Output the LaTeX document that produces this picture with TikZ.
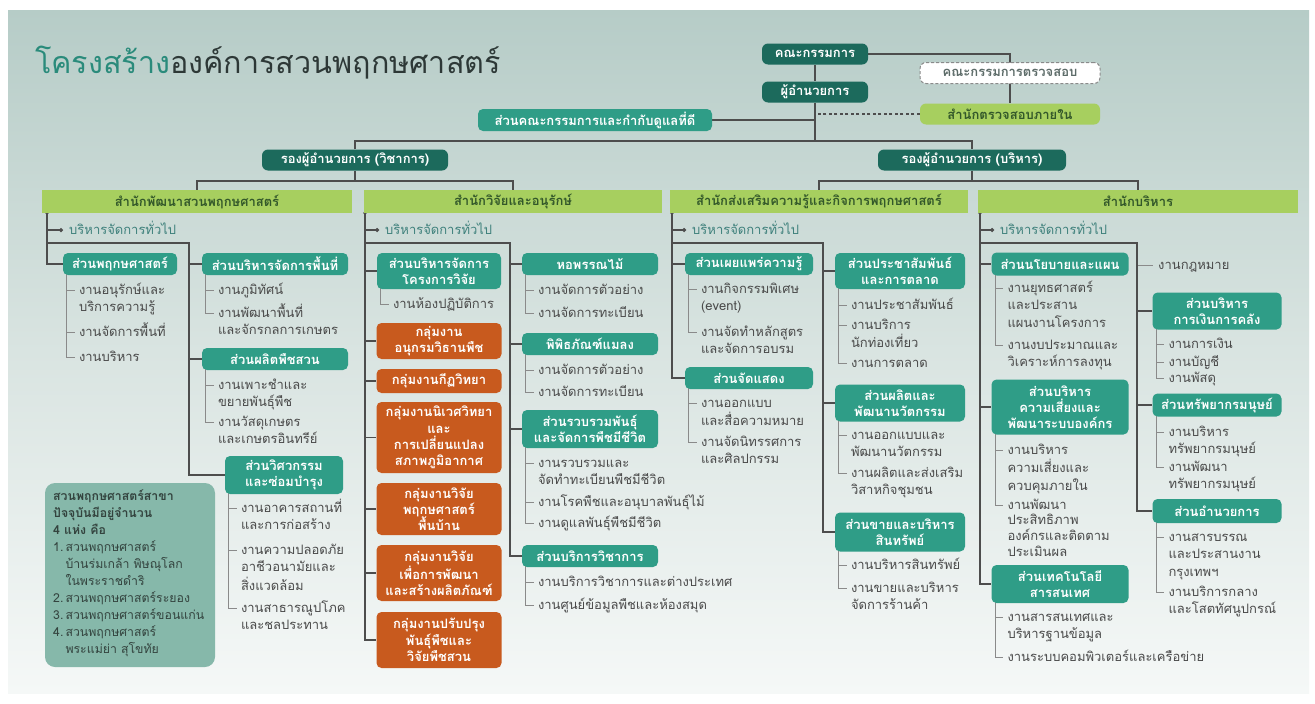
\documentclass[tikz,border=0pt]{standalone}
\usepackage{fontspec}
\setmainfont{Loma}[Script=Thai]
\usetikzlibrary{calc,arrows.meta}
\pgfdeclarelayer{back}\pgfdeclarelayer{bg}
\pgfsetlayers{back,bg,main}
\definecolor{bgtop}{HTML}{B6CCC7}
\definecolor{bgmid}{HTML}{D9E4E1}
\definecolor{bgbot}{HTML}{F5F8F7}
\definecolor{dkteal}{HTML}{1C6A5C}
\definecolor{secteal}{HTML}{2F9D87}
\definecolor{lgreen}{HTML}{A7CF5F}
\definecolor{hdrtext}{HTML}{33582A}
\definecolor{orng}{HTML}{C85A1E}
\definecolor{itemgray}{HTML}{4A4A4A}
\definecolor{gentext}{HTML}{3F817C}
\definecolor{infofill}{HTML}{86B8AA}
\definecolor{infotext}{HTML}{33433E}
\definecolor{linec}{HTML}{4D4D4D}
\definecolor{tickc}{HTML}{8A8A8A}
\definecolor{titleteal}{HTML}{2A8B7B}
\definecolor{titledark}{HTML}{2D3836}
\definecolor{dashtext}{HTML}{5C6B68}
\newcommand\tl[1]{\begin{tabular}[t]{@{}l@{}}#1\end{tabular}}
\newcommand\boxfont{\bfseries\fontsize{13}{16.3}\selectfont}
\newcommand\itmfont{\fontsize{13}{17.5}\selectfont}
\newcommand\itm[4]{%
  \node[itm] (#2) at ($(#1.west |- 0,#3)+(16,0)$) {\tl{#4}};
  \begin{pgfonlayer}{bg}\draw[tick] ($(#1.south west)+(4,-2)$) |- ($(#2.base west)+(-4,-4)$);\end{pgfonlayer}}
\newcommand\itmS[4]{%
  \node[itm] (#2) at ($(#1.west |- 0,#3)+(16,0)$) {\renewcommand\arraystretch{0.9}\tl{#4}};
  \begin{pgfonlayer}{bg}\draw[tick] ($(#1.south west)+(4,-2)$) |- ($(#2.base west)+(-4,-4)$);\end{pgfonlayer}}
\begin{document}
\begin{tikzpicture}[x=1pt,y=-1pt,
  dk/.style={fill=dkteal, text=white, rounded corners=6pt, font=\boxfont, inner sep=1pt, align=center},
  sec/.style={fill=secteal, text=white, rounded corners=5pt, font=\boxfont, inner sep=1pt, align=center},
  org/.style={fill=orng, text=white, rounded corners=5pt, font=\boxfont, inner sep=1pt, align=center, minimum width=125pt},
  hdr/.style={fill=lgreen, text=hdrtext, font=\boxfont, inner sep=1pt, minimum height=23pt},
  dashbox/.style={fill=white, draw=tickc, dash pattern=on 3pt off 2pt, line width=1pt, rounded corners=6pt, text=dashtext, font=\boxfont, inner sep=1pt},
  itm/.style={anchor=base west, inner sep=0pt, text=itemgray, font=\itmfont},
  gen/.style={anchor=base west, inner sep=0pt, text=gentext, font=\fontsize{13}{15}\selectfont},
  conn/.style={draw=linec, line width=1.4pt},
  tick/.style={draw=tickc, line width=0.9pt},
  gentip/.style={draw=linec, line width=1.2pt, -{Circle[length=4pt]}}
]
\useasboundingbox (0,0) rectangle (1315,704);
\begin{pgfonlayer}{back}
  \fill[white] (0,0) rectangle (1315,704);
  \shade[top color=bgtop, bottom color=bgbot, middle color=bgmid] (8,10) rectangle (1309,693);
\end{pgfonlayer}

% title
\node[anchor=west, inner sep=0pt, font=\fontsize{30.5}{32}\selectfont, text=titledark] (title) at (35,63)
  {\textcolor{titleteal}{โครงสร้าง}องค์การสวนพฤกษศาสตร์};

% top level
\node[dk, minimum width=106pt, minimum height=21pt] (k) at (815,54) {คณะกรรมการ};
\node[dk, minimum width=106pt, minimum height=21pt] (d) at (815,92) {ผู้อำนวยการ};
\node[dashbox, minimum width=180pt, minimum height=21pt] (ak) at (1010,73) {คณะกรรมการตรวจสอบ};
\node[fill=lgreen, text=hdrtext, rounded corners=6pt, font=\boxfont, inner sep=1pt, minimum width=180pt, minimum height=21pt] (ia) at (1010,114) {สำนักตรวจสอบภายใน};
\node[sec, minimum width=234pt, minimum height=22pt] (gg) at (595,120) {ส่วนคณะกรรมการและกำกับดูแลที่ดี};
\node[dk, minimum width=186pt, minimum height=21pt] (v1) at (355,160) {รองผู้อำนวยการ (วิชาการ)};
\node[dk, minimum width=188pt, minimum height=21pt] (v2) at (972,160) {รองผู้อำนวยการ (บริหาร)};
\coordinate (jn) at (815,141);
\coordinate (j1) at (355,181);
\coordinate (j2) at (972,181);

% headers
\node[hdr, minimum width=310pt] (h1) at (197,201.5) {สำนักพัฒนาสวนพฤกษศาสตร์};
\node[hdr, minimum width=298pt] (h2) at (513,201.5) {สำนักวิจัยและอนุรักษ์};
\node[hdr, minimum width=298pt] (h3) at (819,201.5) {สำนักส่งเสริมความรู้และกิจการพฤกษศาสตร์};
\node[hdr, minimum width=320pt] (h4) at (1138,201.5) {สำนักบริหาร};

\begin{pgfonlayer}{bg}
  \draw[conn] (k) -- (d);
  \draw[conn] (k.east) -| (ia.north);
  \draw[conn, dash pattern=on 3pt off 2.5pt] (ia.west) -- (ia.west -| d.south);
  \draw[conn] (d.south) -- (jn);
  \draw[conn] (gg.east) -- (gg.east -| jn);
  \draw[conn] (v1.north) -- (v1.north |- jn) -- (v2.north |- jn) -- (v2.north);
  \draw[conn] (v1.south) -- (j1);
  \draw[conn] (h1.north) -- (h1.north |- j1) -- (h2.north |- j1) -- (h2.north);
  \draw[conn] (v2.south) -- (j2);
  \draw[conn] (h3.north) -- (h3.north |- j2) -- (h4.north |- j2) -- (h4.north);
\end{pgfonlayer}

% ===== column 1 =====
\coordinate (t1a) at (47,213);
\coordinate (t1b) at (189,243);
\node[gen] (g1) at (69,234) {บริหารจัดการทั่วไป};
\node[sec, minimum width=114pt, minimum height=22pt] (c1b1) at (120,264) {ส่วนพฤกษศาสตร์};
\node[sec, minimum width=146pt, minimum height=22pt] (c1b2) at (275,264) {ส่วนบริหารจัดการพื้นที่};
\node[sec, minimum width=146pt, minimum height=22pt] (c1b3) at (275,359) {ส่วนผลิตพืชสวน};
\node[sec, minimum width=118pt, minimum height=38pt] (c1b4) at (284,475) {ส่วนวิศวกรรม\\และซ่อมบำรุง};
\begin{pgfonlayer}{bg}
  \fill[linec] (t1a) circle (1.8);
  \draw[conn] (t1a) |- (c1b1.west);
  \draw[gentip] (t1a |- 0,230) -- ($(g1.base west)+(-6,-4)$);
  \draw[conn] (t1a |- t1b) -- (t1b) |- (c1b2.west);
  \draw[conn] (t1b) |- (c1b3.west);
  \draw[conn] (t1b) |- (c1b4.west);
\end{pgfonlayer}
\itm{c1b1}{i11}{294}{งานอนุรักษ์และ\\บริการความรู้}
\itm{c1b1}{i12}{336}{งานจัดการพื้นที่}
\itm{c1b1}{i13}{361}{งานบริหาร}
\itm{c1b2}{i21}{294}{งานภูมิทัศน์}
\itm{c1b2}{i22}{317}{งานพัฒนาพื้นที่\\และจักรกลการเกษตร}
\itm{c1b3}{i31}{389}{งานเพาะชำและ\\ขยายพันธุ์พืช}
\itm{c1b3}{i32}{426}{งานวัสดุเกษตร\\และเกษตรอินทรีย์}
\itm{c1b4}{i41}{512}{งานอาคารสถานที่\\และการก่อสร้าง}
\itm{c1b4}{i42}{554}{งานความปลอดภัย\\อาชีวอนามัยและ\\สิ่งแวดล้อม}
\itm{c1b4}{i43}{612}{งานสาธารณูปโภค\\และชลประทาน}

% info box
\node[fill=infofill, rounded corners=10pt, minimum width=170pt, minimum height=184pt, inner sep=0pt] (ib) at (130,575) {};
\node[anchor=base west, inner sep=0pt, text=infotext, font=\fontsize{12.3}{17}\selectfont] (ibt) at (53,500)
 {\begin{tabular}[t]{@{}l@{\,}l@{}}
  \multicolumn{2}{@{}l@{}}{\bfseries สวนพฤกษศาสตร์สาขา}\\
  \multicolumn{2}{@{}l@{}}{\bfseries ปัจจุบันมีอยู่จำนวน}\\
  \multicolumn{2}{@{}l@{}}{\bfseries 4 แห่ง คือ}\\
  1. & สวนพฤกษศาสตร์\\
     & บ้านร่มเกล้า พิษณุโลก\\
     & ในพระราชดำริ\\
  2. & สวนพฤกษศาสตร์ระยอง\\
  3. & สวนพฤกษศาสตร์ขอนแก่น\\
  4. & สวนพฤกษศาสตร์\\
     & พระแม่ย่า สุโขทัย
  \end{tabular}};

% ===== column 2 =====
\coordinate (t2a) at (365,213);
\coordinate (t2b) at (510,243);
\node[gen] (g2) at (385,234) {บริหารจัดการทั่วไป};
\node[sec, minimum width=124pt, minimum height=36pt] (c2b1) at (439,271) {ส่วนบริหารจัดการ\\โครงการวิจัย};
\node[org, minimum height=36pt] (c2o1) at (439,341) {กลุ่มงาน\\อนุกรมวิธานพืช};
\node[org, minimum height=24pt] (c2o2) at (439,381) {กลุ่มงานกีฏวิทยา};
\node[org, minimum height=71pt] (c2o3) at (439,437.5) {กลุ่มงานนิเวศวิทยา\\และ\\การเปลี่ยนแปลง\\สภาพภูมิอากาศ};
\node[org, minimum height=52pt] (c2o4) at (439,509) {กลุ่มงานวิจัย\\พฤกษศาสตร์\\พื้นบ้าน};
\node[org, minimum height=56pt] (c2o5) at (439,573) {กลุ่มงานวิจัย\\เพื่อการพัฒนา\\และสร้างผลิตภัณฑ์};
\node[org, minimum height=56pt] (c2o6) at (439,640) {กลุ่มงานปรับปรุง\\พันธุ์พืชและ\\วิจัยพืชสวน};
\node[sec, minimum width=136pt, minimum height=22pt] (c2b2) at (590,264) {หอพรรณไม้};
\node[sec, minimum width=136pt, minimum height=22pt] (c2b3) at (590,344) {พิพิธภัณฑ์แมลง};
\node[sec, minimum width=136pt, minimum height=38pt] (c2b4) at (590,429) {ส่วนรวบรวมพันธุ์\\และจัดการพืชมีชีวิต};
\node[sec, minimum width=136pt, minimum height=22pt] (c2b5) at (590,556) {ส่วนบริการวิชาการ};
\begin{pgfonlayer}{bg}
  \fill[linec] (t2a) circle (1.8);
  \draw[gentip] (t2a |- 0,230) -- ($(g2.base west)+(-6,-4)$);
  \draw[conn] (t2a) |- (c2b1.west);
  \foreach \n in {c2o1,c2o2,c2o3,c2o4,c2o5,c2o6} \draw[conn] (t2a) |- (\n.west);
  \draw[conn] (t2a |- t2b) -- (t2b) |- (c2b2.west);
  \foreach \n in {c2b3,c2b4,c2b5} \draw[conn] (t2b) |- (\n.west);
\end{pgfonlayer}
\itm{c2b1}{j11}{308}{งานห้องปฏิบัติการ}
\itm{c2b2}{j21}{294}{งานจัดการตัวอย่าง}
\itm{c2b2}{j22}{317}{งานจัดการทะเบียน}
\itm{c2b3}{j31}{374}{งานจัดการตัวอย่าง}
\itm{c2b3}{j32}{396}{งานจัดการทะเบียน}
\itm{c2b4}{j41}{467}{งานรวบรวมและ\\จัดทำทะเบียนพืชมีชีวิต}
\itm{c2b4}{j42}{506}{งานโรคพืชและอนุบาลพันธุ์ไม้}
\itm{c2b4}{j43}{527}{งานดูแลพันธุ์พืชมีชีวิต}
\itm{c2b5}{j51}{586}{งานบริการวิชาการและต่างประเทศ}
\itm{c2b5}{j52}{609}{งานศูนย์ข้อมูลพืชและห้องสมุด}

% ===== column 3 =====
\coordinate (t3a) at (672,213);
\coordinate (t3b) at (823,243);
\node[gen] (g3) at (692,234) {บริหารจัดการทั่วไป};
\node[sec, minimum width=128pt, minimum height=22pt] (c3b1) at (749,264) {ส่วนเผยแพร่ความรู้};
\node[sec, minimum width=128pt, minimum height=22pt] (c3b2) at (749,378) {ส่วนจัดแสดง};
\node[sec, minimum width=130pt, minimum height=36pt] (c3b3) at (900,271) {ส่วนประชาสัมพันธ์\\และการตลาด};
\node[sec, minimum width=130pt, minimum height=37pt] (c3b4) at (900,403) {ส่วนผลิตและ\\พัฒนานวัตกรรม};
\node[sec, minimum width=130pt, minimum height=39pt] (c3b5) at (900,532) {ส่วนขายและบริหาร\\สินทรัพย์};
\begin{pgfonlayer}{bg}
  \fill[linec] (t3a) circle (1.8);
  \draw[gentip] (t3a |- 0,230) -- ($(g3.base west)+(-6,-4)$);
  \draw[conn] (t3a) |- (c3b1.west);
  \draw[conn] (t3a) |- (c3b2.west);
  \draw[conn] (t3a |- t3b) -- (t3b) |- (c3b3.west);
  \draw[conn] (t3b) |- (c3b4.west);
  \draw[conn] (t3b) |- (c3b5.west);
\end{pgfonlayer}
\itm{c3b1}{k11}{293}{งานกิจกรรมพิเศษ\\(event)}
\itm{c3b1}{k12}{336}{งานจัดทำหลักสูตร\\และจัดการอบรม}
\itm{c3b2}{k21}{407}{งานออกแบบ\\และสื่อความหมาย}
\itm{c3b2}{k22}{446}{งานจัดนิทรรศการ\\และศิลปกรรม}
\itm{c3b3}{k31}{309}{งานประชาสัมพันธ์}
\itm{c3b3}{k32}{329}{งานบริการ\\นักท่องเที่ยว}
\itm{c3b3}{k33}{367}{งานการตลาด}
\itm{c3b4}{k41}{439}{งานออกแบบและ\\พัฒนานวัตกรรม}
\itm{c3b4}{k42}{477}{งานผลิตและส่งเสริม\\วิสาหกิจชุมชน}
\itm{c3b5}{k51}{569}{งานบริหารสินทรัพย์}
\itm{c3b5}{k52}{592}{งานขายและบริหาร\\จัดการร้านค้า}

% ===== column 4 =====
\coordinate (t4a) at (980,213);
\coordinate (t4b) at (1137,243);
\node[gen] (g4) at (1000,234) {บริหารจัดการทั่วไป};
\node[sec, minimum width=137pt, minimum height=23pt] (c4b1) at (1060,264) {ส่วนนโยบายและแผน};
\node[sec, minimum width=137pt, minimum height=55pt] (c4b2) at (1060,407) {ส่วนบริหาร\\ความเสี่ยงและ\\พัฒนาระบบองค์กร};
\node[sec, minimum width=137pt, minimum height=38pt] (c4b3) at (1060,584) {ส่วนเทคโนโลยี\\สารสนเทศ};
\node[itm] (law) at (1158,269) {งานกฎหมาย};
\node[sec, minimum width=129pt, minimum height=37pt] (c4b4) at (1217,311) {ส่วนบริหาร\\การเงินการคลัง};
\node[sec, minimum width=129pt, minimum height=23pt] (c4b5) at (1217,405) {ส่วนทรัพยากรมนุษย์};
\node[sec, minimum width=129pt, minimum height=24pt] (c4b6) at (1217,511) {ส่วนอำนวยการ};
\begin{pgfonlayer}{bg}
  \fill[linec] (t4a) circle (1.8);
  \draw[gentip] (t4a |- 0,230) -- ($(g4.base west)+(-6,-4)$);
  \draw[conn] (t4a) |- (c4b1.west);
  \draw[conn] (t4a) |- (c4b2.west);
  \draw[conn] (t4a) |- (c4b3.west);
  \draw[tick] (t4b) |- ($(law.base west)+(-5,-4)$);
  \draw[conn] (t4a |- t4b) -- (t4b) |- (c4b4.west);
  \draw[conn] (t4b) |- (c4b5.west);
  \draw[conn] (t4b) |- (c4b6.west);
\end{pgfonlayer}
\itm{c4b1}{m11}{292}{งานยุทธศาสตร์\\และประสาน\\แผนงานโครงการ}
\itm{c4b1}{m12}{349}{งานงบประมาณและ\\วิเคราะห์การลงทุน}
\itm{c4b2}{m21}{454}{งานบริหาร\\ความเสี่ยงและ\\ควบคุมภายใน}
\itmS{c4b2}{m22}{509}{งานพัฒนา\\ประสิทธิภาพ\\องค์กรและติดตาม\\ประเมินผล}
\itm{c4b3}{m31}{621}{งานสารสนเทศและ\\บริหารฐานข้อมูล}
\itm{c4b3}{m32}{661}{งานระบบคอมพิวเตอร์และเครือข่าย}
\itm{c4b4}{m41}{348}{งานการเงิน}
\itm{c4b4}{m42}{366}{งานบัญชี}
\itm{c4b4}{m43}{382}{งานพัสดุ}
\itm{c4b5}{m51}{436}{งานบริหาร\\ทรัพยากรมนุษย์}
\itm{c4b5}{m52}{471}{งานพัฒนา\\ทรัพยากรมนุษย์}
\itm{c4b6}{m61}{541}{งานสารบรรณ\\และประสานงาน\\กรุงเทพฯ}
\itm{c4b6}{m62}{596}{งานบริการกลาง\\และโสตทัศนูปกรณ์}
\end{tikzpicture}
\end{document}
